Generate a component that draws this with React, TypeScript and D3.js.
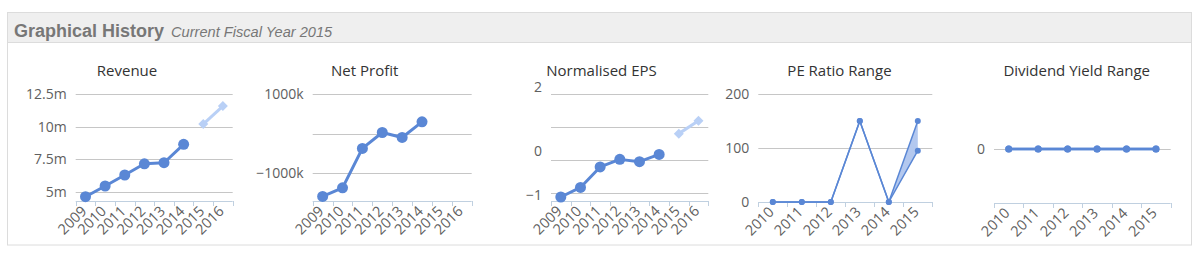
import React from "react";
import * as d3 from "d3";

// ---------- DATA ----------
const years8 = ["2009", "2010", "2011", "2012", "2013", "2014", "2015", "2016"];
const years6 = ["2010", "2011", "2012", "2013", "2014", "2015"];

const revenueActual = [4.64, 5.46, 6.3, 7.16, 7.24, 8.65]; // millions, 2009-2014
const revenueForecast = [10.2, 11.58]; // 2015-2016
const revenueTicks = [5, 7.5, 10, 12.5];
const revenueTickLabels = ["5m", "7.5m", "10m", "12.5m"];

const netProfitActual = [-1582, -1365, -375, 25, -100, 293]; // thousands, 2009-2014
const netProfitGrid = [-1000, 0, 1000];
const netProfitTickValues = [-1000, 1000];
const netProfitTickLabels = ["\u22121000k", "1000k"];

const epsActual = [-1.13, -0.84, -0.22, 0.01, -0.06, 0.16];
const epsForecast = [0.79, 1.18];
const epsGrid = [-1, 0, 1, 2];
const epsTickValues = [-1, 0, 2];
const epsTickLabels = ["\u22121", "0", "2"];

const peLow = [0, 0, 0, 150, 0, 95];
const peHigh = [0, 0, 0, 150, 0, 150];
const peTicks = [0, 100, 200];
const peTickLabels = ["0", "100", "200"];

const divLow = [0, 0, 0, 0, 0, 0];
const divHigh = [0, 0, 0, 0, 0, 0];
const divTicks = [0];
const divTickLabels = ["0"];

const chartTitles = ["Revenue", "Net Profit", "Normalised EPS", "PE Ratio Range", "Dividend Yield Range"];

// ---------- STYLE ----------
const BLUE = "#5a87d5";
const LIGHT = "#b9d0f6";
const FILL = "#b3c8ef";
const GRID = "#c6c6c6";
const AXIS = "#c0d0e0";
const LABEL = "#606060";
const FONT = "'Open Sans', sans-serif";

type Layout = {
  cx: number;
  left: number;
  right: number;
  axisY: number;
  yRef: [number, number];
  pxRef: [number, number];
  labelDy?: number[];
};

const layouts: Layout[] = [
  { cx: 127, left: 75.7, right: 232.7, axisY: 201, yRef: [5, 12.5], pxRef: [192, 94] },
  { cx: 364.7, left: 312.7, right: 471.7, axisY: 201, yRef: [-1000, 1000], pxRef: [173.3, 93.7] },
  { cx: 601.5, left: 551, right: 708.3, axisY: 201, yRef: [-1, 2], pxRef: [192.7, 93.7], labelDy: [2, -9, -7] },
  { cx: 839.5, left: 758.3, right: 932.3, axisY: 202, yRef: [0, 200], pxRef: [202, 94] },
  { cx: 1076.7, left: 994, right: 1170.7, axisY: 203, yRef: [0, 1], pxRef: [149, 100] },
];

function XAxis({ x, cats, y }: { x: d3.ScaleBand<string>; cats: string[]; y: number }) {
  const [r0, r1] = x.range();
  const bounds = cats.map((c) => x(c)!).concat([r1]);
  return (
    <g>
      <line x1={r0} x2={r1} y1={y + 0.5} y2={y + 0.5} stroke={AXIS} strokeWidth={1} />
      {bounds.map((b, i) => (
        <line key={i} x1={Math.round(b) + 0.5} x2={Math.round(b) + 0.5} y1={y} y2={y + 5} stroke={AXIS} />
      ))}
      {cats.map((c) => {
        const cx = x(c)! + x.bandwidth() / 2 + 2;
        const ly = y + 11;
        return (
          <text
            key={c}
            x={cx}
            y={ly}
            transform={`rotate(-45 ${cx} ${ly})`}
            textAnchor="end"
            fontSize={14.5}
            fontFamily={FONT}
            fill={LABEL}
          >
            {c}
          </text>
        );
      })}
    </g>
  );
}

function YGrid({
  y, left, right, grid, tickValues, tickLabels, labelDy,
}: {
  y: d3.ScaleLinear<number, number>; left: number; right: number; grid: number[];
  tickValues: number[]; tickLabels: string[]; labelDy?: number[];
}) {
  return (
    <g>
      {grid.map((g) => (
        <line key={g} x1={left} x2={right} y1={Math.round(y(g)) + 0.5} y2={Math.round(y(g)) + 0.5} stroke={GRID} />
      ))}
      {tickValues.map((t, i) => (
        <text
          key={t}
          x={left - 9}
          y={y(t) + (labelDy ? labelDy[i] : 0)}
          dy="0.35em"
          textAnchor="end"
          fontSize={14}
          fontFamily={FONT}
          fill={LABEL}
        >
          {tickLabels[i]}
        </text>
      ))}
    </g>
  );
}

function Title({ cx, text }: { cx: number; text: string }) {
  return (
    <text x={cx} y={76} textAnchor="middle" fontSize={15} fontFamily={FONT} fill="#333">
      {text}
    </text>
  );
}

function diamond(cx: number, cy: number, r: number) {
  return `M${cx},${cy - r}L${cx + r},${cy}L${cx},${cy + r}L${cx - r},${cy}Z`;
}

function LineChart({
  idx, cats, actual, forecast, grid, tickValues, tickLabels,
}: {
  idx: number; cats: string[]; actual: number[]; forecast: number[];
  grid: number[]; tickValues: number[]; tickLabels: string[];
}) {
  const L = layouts[idx];
  const x = d3.scaleBand<string>().domain(cats).range([L.left, L.right]);
  const y = d3.scaleLinear().domain(L.yRef).range(L.pxRef);
  const px = (i: number) => x(cats[i])! + x.bandwidth() / 2;
  const line = d3.line<number>().x((_, i) => px(i)).y((d) => y(d));
  const fLine = d3.line<number>().x((_, i) => px(i + actual.length)).y((d) => y(d));
  return (
    <g>
      <Title cx={L.cx} text={chartTitles[idx]} />
      <YGrid y={y} left={L.left} right={L.right} grid={grid} tickValues={tickValues} tickLabels={tickLabels} labelDy={L.labelDy} />
      <XAxis x={x} cats={cats} y={L.axisY} />
      <path d={line(actual)!} fill="none" stroke={BLUE} strokeWidth={3} strokeLinejoin="round" />
      {actual.map((d, i) => (
        <circle key={i} cx={px(i)} cy={y(d)} r={5.5} fill={BLUE} />
      ))}
      {forecast.length > 0 && (
        <path d={fLine(forecast)!} fill="none" stroke={LIGHT} strokeWidth={3} />
      )}
      {forecast.map((d, i) => (
        <path key={i} d={diamond(px(i + actual.length), y(d), 5)} fill={LIGHT} />
      ))}
    </g>
  );
}

function RangeChart({
  idx, cats, low, high, tickValues, tickLabels, lineW, markerR,
}: {
  idx: number; cats: string[]; low: number[]; high: number[];
  tickValues: number[]; tickLabels: string[]; lineW: number; markerR: number;
}) {
  const L = layouts[idx];
  const x = d3.scaleBand<string>().domain(cats).range([L.left, L.right]);
  const y = d3.scaleLinear().domain(L.yRef).range(L.pxRef);
  const px = (i: number) => x(cats[i])! + x.bandwidth() / 2;
  const area = d3.area<number>().x((_, i) => px(i)).y0((_, i) => y(low[i])).y1((d) => y(d));
  const line = d3.line<number>().x((_, i) => px(i)).y((d) => y(d));
  return (
    <g>
      <Title cx={L.cx} text={chartTitles[idx]} />
      <YGrid y={y} left={L.left} right={L.right} grid={tickValues} tickValues={tickValues} tickLabels={tickLabels} />
      <XAxis x={x} cats={cats} y={L.axisY} />
      <path d={area(high)!} fill={FILL} stroke="none" />
      <path d={line(low)!} fill="none" stroke={BLUE} strokeWidth={lineW} strokeLinejoin="round" />
      <path d={line(high)!} fill="none" stroke={BLUE} strokeWidth={lineW} strokeLinejoin="round" />
      {low.map((d, i) => (
        <circle key={"l" + i} cx={px(i)} cy={y(d)} r={markerR} fill={BLUE} />
      ))}
      {high.map((d, i) => (
        <circle key={"h" + i} cx={px(i)} cy={y(d)} r={markerR} fill={BLUE} />
      ))}
    </g>
  );
}

export default function App() {
  return (
    <svg
      width={1193}
      height={254}
      style={{ position: "absolute", left: 0, top: 0, background: "#fff" }}
    >
      {/* panel */}
      <rect x={7.5} y={12.5} width={1184} height={232.5} fill="#fff" stroke="#dcdcdc" />
      <rect x={7.5} y={12.5} width={1184} height={30} fill="#efefef" stroke="#dcdcdc" />
      <text x={14} y={37} fontFamily="'Liberation Sans', Arial, sans-serif" fontSize={18} fontWeight="bold" fill="#777">
        Graphical History
        <tspan dx={7} fontWeight="normal" fontStyle="italic" fontSize={14.6}>
          Current Fiscal Year 2015
        </tspan>
      </text>

      <LineChart idx={0} cats={years8} actual={revenueActual} forecast={revenueForecast}
        grid={revenueTicks} tickValues={revenueTicks} tickLabels={revenueTickLabels} />
      <LineChart idx={1} cats={years8} actual={netProfitActual} forecast={[]}
        grid={netProfitGrid} tickValues={netProfitTickValues} tickLabels={netProfitTickLabels} />
      <LineChart idx={2} cats={years8} actual={epsActual} forecast={epsForecast}
        grid={epsGrid} tickValues={epsTickValues} tickLabels={epsTickLabels} />
      <RangeChart idx={3} cats={years6} low={peLow} high={peHigh}
        tickValues={peTicks} tickLabels={peTickLabels} lineW={1.5} markerR={3} />
      <RangeChart idx={4} cats={years6} low={divLow} high={divHigh}
        tickValues={divTicks} tickLabels={divTickLabels} lineW={2.5} markerR={3.5} />
    </svg>
  );
}
